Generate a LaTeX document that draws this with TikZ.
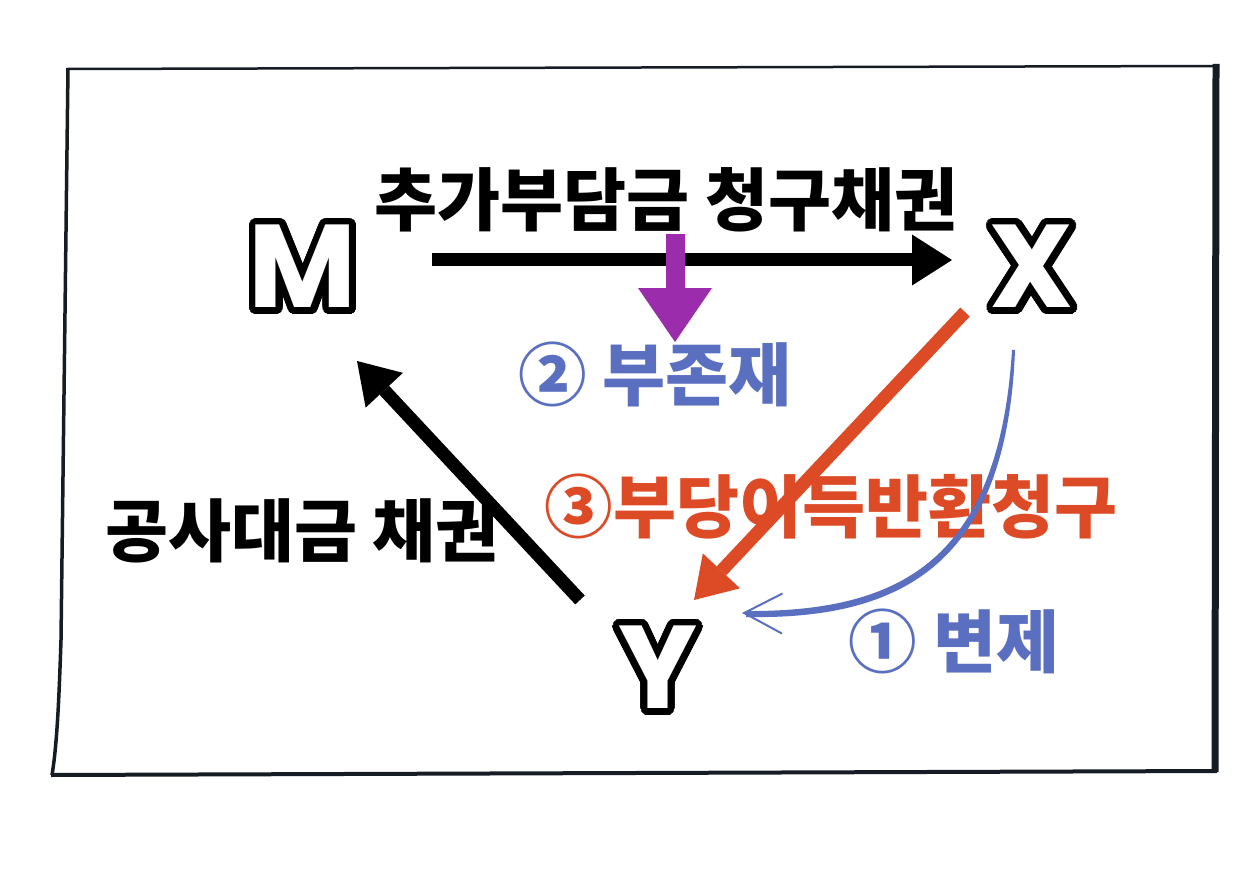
\documentclass[tikz,border=0pt]{standalone}
\usepackage{fontspec}
\usepackage{contour}
\usetikzlibrary{arrows.meta,calc}
\newfontfamily\kofont{Noto Sans CJK KR}
\newfontfamily\letterfont{Poppins}
\definecolor{ink}{RGB}{22,28,36}
\definecolor{notblue}{RGB}{91,111,192}
\definecolor{redorange}{RGB}{220,74,38}
\definecolor{plum}{RGB}{155,45,172}
\contourlength{3.8pt}
\contournumber{48}
\begin{document}
\begin{tikzpicture}[x=0.02cm,y=-0.02cm,
    label/.style={font=\kofont\bfseries\fontsize{39}{46}\selectfont},
    letter/.style={font=\letterfont\bfseries\fontsize{67}{80}\selectfont,text=white},
    heavy/.style={line width=0.26cm,-{Triangle[length=0.8cm,width=1.02cm,line width=0pt]}}]
  \useasboundingbox (0,0) rectangle (1260,891);
  \fill[white] (0,0) rectangle (1260,891);
  \draw[ink,line width=0.05cm] (68,69) -- (1219,66);
  \draw[ink,line width=0.14cm] (1216,64) -- (1215,772);
  \draw[ink,line width=0.08cm] (1217,771) -- (51,775);
  \draw[ink,line width=0.07cm] (52,775) .. controls (57,745) and (59,700) .. (61,640) -- (68,68);
  \node[letter] (M) at (303,270) {\contour{black}{M}};
  \node[letter] (X) at (1032,270) {\contour{black}{X}};
  \node[letter] (Y) at (658,671) {\contour{black}{Y}};
  \node[label] (T) at (666,200) {추가부담금 청구채권};
  \node[label,text=notblue] (N) at (655,374) {② 부존재};
  \node[label] (C) at (302,531) {공사대금 채권};
  \node[label,text=redorange] (U) at (831,507) {③부당이득반환청구};
  \node[label,text=notblue] (P) at (954,641) {① 변제};
  \draw[heavy] ($(M)+(129,-10)$) -- ($(X)+(-80,-10)$);
  \draw[heavy,plum,line width=0.38cm,-{Triangle[length=1.08cm,width=1.48cm,line width=0pt]}] ($(T)+(9,34)$) -- ($(T)+(9,142)$);
  \draw[heavy] ($(Y)+(-78,-71)$) -- ($(M)+(54,91)$);
  \draw[heavy,redorange] ($(X)+(-67,42)$) -- ($(Y)+(36,-71)$);
  \draw[notblue,line width=0.04cm,-{Straight Barb[length=0.76cm,width=0.8cm,line width=0.04cm]}] ($(X)+(-19,80)$) .. controls (1000,560) and (900,615) .. ($(Y)+(84,-58)$);
  \fill[notblue] ($(X)+(-19,80)$) .. controls (1000,560) and (900,612) .. (746,611) -- (746,617) .. controls (904,620) and (1007,562) .. ($(X)+(-17,80)$) -- cycle;
\end{tikzpicture}
\end{document}
